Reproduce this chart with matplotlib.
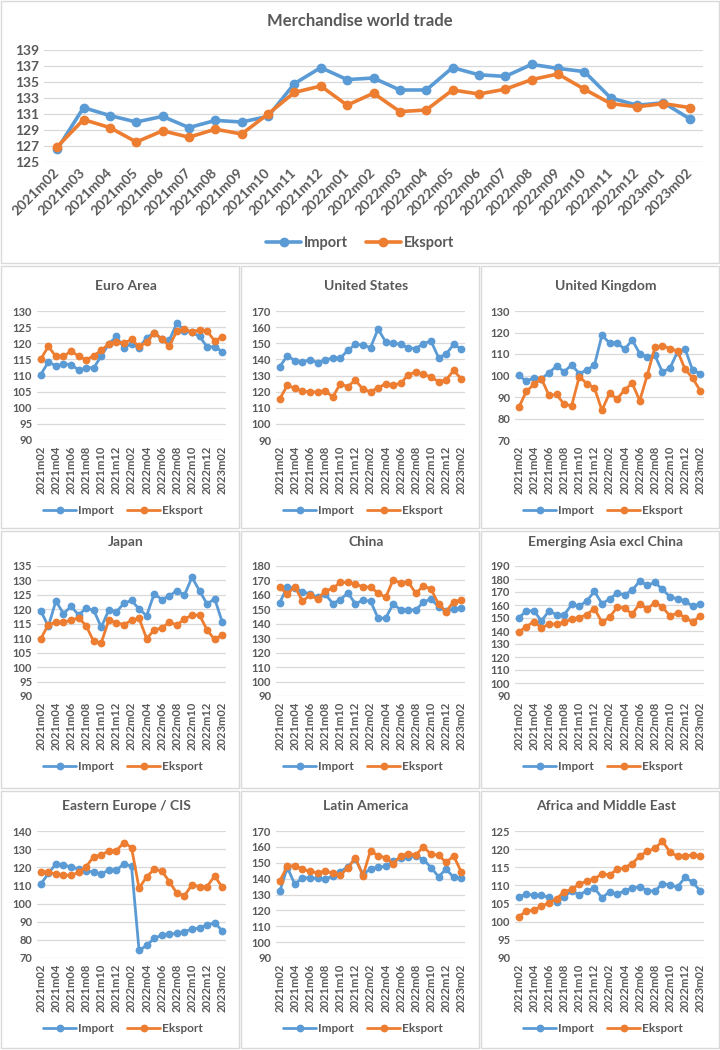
import matplotlib
matplotlib.use("Agg")
import matplotlib.pyplot as plt
from matplotlib.patches import Rectangle

plt.rcParams['font.family'] = ['Lato', 'DejaVu Sans']

months = ["2021m02", "2021m03", "2021m04", "2021m05", "2021m06", "2021m07",
          "2021m08", "2021m09", "2021m10", "2021m11", "2021m12", "2022m01",
          "2022m02", "2022m03", "2022m04", "2022m05", "2022m06", "2022m07",
          "2022m08", "2022m09", "2022m10", "2022m11", "2022m12", "2023m01",
          "2023m02"]

world_import = [126.6, 131.8, 130.8, 130.0, 130.7, 129.3, 130.2, 130.0, 130.7, 134.8,
                136.8, 135.3, 135.5, 134.0, 134.0, 136.8, 135.9, 135.7, 137.2, 136.7,
                136.3, 133.0, 132.1, 132.4, 130.4]
world_export = [126.9, 130.3, 129.3, 127.5, 128.9, 128.1, 129.1, 128.5, 131.0, 133.7,
                134.5, 132.1, 133.6, 131.3, 131.5, 134.0, 133.5, 134.1, 135.3, 136.0,
                134.1, 132.3, 131.9, 132.3, 131.8]

euro_import = [110.3, 114.2, 113.0, 113.6, 113.4, 111.7, 112.4, 112.4, 116.0, 119.8,
               122.1, 118.6, 119.9, 118.6, 121.7, 123.2, 121.2, 120.9, 126.3, 123.9,
               123.4, 122.1, 118.9, 118.9, 117.4]
euro_export = [115.1, 119.0, 115.9, 115.9, 117.6, 116.0, 114.9, 116.1, 117.8, 119.8,
               120.5, 120.0, 121.2, 119.0, 120.3, 123.2, 121.4, 119.1, 123.8, 124.4,
               123.5, 124.2, 123.8, 120.7, 122.0]

us_import = [135.5, 142.3, 139.2, 138.4, 139.8, 138.0, 139.6, 140.9, 140.7, 145.6,
             149.3, 148.9, 147.3, 158.8, 150.9, 150.2, 149.3, 147.1, 146.7, 149.8,
             151.4, 141.1, 143.3, 149.3, 146.4]
us_export = [115.5, 123.9, 122.1, 120.2, 119.8, 119.8, 120.6, 116.7, 124.8, 123.1,
             127.2, 121.4, 120.0, 122.3, 124.9, 124.1, 125.2, 130.5, 132.2, 130.7,
             129.1, 126.2, 127.2, 133.2, 127.9]

uk_import = [100.1, 97.3, 99.0, 98.5, 101.3, 104.4, 101.8, 104.9, 100.9, 102.6,
             104.7, 118.8, 115.1, 115.3, 112.2, 116.5, 110.2, 108.6, 109.4, 101.6,
             103.5, 111.0, 112.3, 102.4, 100.9]
uk_export = [85.2, 92.6, 95.9, 98.5, 90.7, 91.2, 86.6, 86.0, 99.5, 96.2,
             94.3, 83.8, 91.8, 89.1, 93.3, 96.4, 88.3, 100.2, 113.1, 113.9,
             112.5, 111.4, 102.9, 98.8, 92.9]

japan_import = [119.5, 114.1, 122.9, 118.5, 121.0, 118.1, 120.3, 119.7, 113.8, 119.8,
                119.1, 122.1, 123.1, 120.1, 117.8, 125.4, 123.4, 124.6, 126.5, 124.9,
                131.1, 126.4, 121.8, 123.7, 115.6]
japan_export = [109.8, 114.7, 115.5, 115.6, 116.2, 117.1, 114.3, 108.9, 108.4, 116.3,
                115.4, 114.7, 116.2, 116.9, 109.9, 112.8, 113.6, 115.5, 114.6, 116.6,
                118.0, 118.0, 112.8, 109.6, 111.2]

china_import = [154.7, 165.4, 164.5, 162.1, 160.7, 158.2, 160.7, 154.0, 156.6, 161.4,
                153.8, 156.3, 155.6, 144.0, 143.8, 153.8, 149.6, 149.6, 149.6, 154.9,
                157.3, 151.7, 148.9, 150.3, 151.2]
china_export = [165.2, 160.5, 165.8, 155.6, 159.8, 157.0, 162.8, 164.5, 168.6, 168.6,
                167.2, 165.8, 165.2, 161.4, 158.2, 170.5, 168.2, 168.9, 161.0, 166.3,
                164.0, 153.8, 148.4, 155.4, 156.3]

easia_import = [150.1, 155.5, 155.5, 147.8, 155.5, 152.4, 152.4, 160.4, 159.1, 163.2,
                170.4, 161.1, 164.5, 169.1, 167.8, 171.4, 178.4, 175.1, 177.4, 172.0,
                166.3, 164.7, 163.2, 159.1, 160.9]
easia_export = [139.2, 143.4, 147.2, 142.3, 145.4, 145.2, 146.7, 149.3, 150.3, 152.6,
                157.3, 146.7, 150.5, 158.2, 157.8, 152.9, 161.1, 156.8, 161.9, 158.5,
                151.5, 153.9, 150.3, 146.7, 151.8]

eeur_import = [110.7, 116.6, 121.9, 121.4, 120.1, 119.2, 118.1, 117.3, 116.4, 118.4,
               118.4, 121.9, 120.6, 74.2, 76.9, 80.8, 82.6, 83.0, 83.7, 84.6,
               85.9, 86.6, 88.3, 89.4, 85.0]
eeur_export = [117.5, 117.3, 116.2, 115.7, 115.5, 117.3, 120.3, 125.9, 126.8, 129.0,
               129.2, 133.6, 130.9, 108.4, 114.8, 118.8, 118.1, 112.1, 105.7, 104.4,
               110.3, 109.4, 109.4, 115.2, 109.0]

latam_import = [132.0, 147.0, 136.3, 140.7, 140.3, 140.3, 139.7, 141.6, 144.3, 147.5,
                152.3, 142.7, 146.2, 147.2, 147.7, 151.2, 153.1, 153.5, 154.3, 152.0,
                147.0, 141.2, 146.0, 140.8, 140.3]
latam_export = [138.5, 147.9, 148.1, 146.0, 144.5, 143.7, 144.7, 143.5, 142.4, 146.6,
                153.1, 141.8, 157.7, 154.3, 153.3, 149.5, 154.3, 155.8, 155.0, 160.0,
                155.4, 154.8, 150.2, 154.3, 144.3]

afme_import = [106.8, 107.6, 107.3, 107.3, 106.7, 105.4, 106.9, 108.5, 107.4, 108.5,
               109.3, 106.6, 108.2, 107.6, 108.5, 109.3, 109.6, 108.6, 108.4, 110.5,
               110.1, 109.6, 112.2, 110.9, 108.5]
afme_export = [101.4, 102.9, 103.2, 104.3, 105.2, 106.3, 108.3, 108.9, 110.4, 111.2,
               111.8, 113.2, 112.9, 114.4, 114.9, 116.0, 118.1, 119.4, 120.2, 122.2,
               119.2, 118.0, 118.1, 118.4, 118.1]

BLUE = '#5B9BD5'
ORANGE = '#ED7D31'
TXT = '#595959'
GRID = '#D9D9D9'

W, H = 720, 1050
fig = plt.figure(figsize=(W / 100, H / 100), dpi=100)
fig.patch.set_facecolor('white')


def add_ax(x0, y0, x1, y1):
    return fig.add_axes([x0 / W, 1 - y1 / H, (x1 - x0) / W, (y1 - y0) / H])


def border(x0, y0, x1, y1):
    fig.add_artist(Rectangle((x0 / W, 1 - y1 / H), (x1 - x0) / W, (y1 - y0) / H,
                             transform=fig.transFigure, fill=False, ec=GRID, lw=1.0))


def draw(ax, imp, exp, lo, hi, step, lw, ms, fs_tick, rot, every):
    x = list(range(len(months)))
    ax.plot(x, imp, color=BLUE, lw=lw, marker='o', ms=ms, label='Import',
            solid_capstyle='round', solid_joinstyle='round')
    ax.plot(x, exp, color=ORANGE, lw=lw, marker='o', ms=ms, label='Eksport',
            solid_capstyle='round', solid_joinstyle='round')
    ax.set_xlim(-0.5, len(months) - 0.5)
    ax.set_ylim(lo, hi)
    ax.set_yticks(list(range(lo, hi + 1, step)))
    ax.yaxis.grid(True, color=GRID, lw=0.9)
    ax.set_axisbelow(True)
    for s in ax.spines.values():
        s.set_visible(False)
    ax.tick_params(axis='both', length=0, colors=TXT, labelsize=fs_tick)
    for t in ax.get_yticklabels():
        t.set_fontweight('bold')
    ax.set_xticks(x[::every])
    if rot == 90:
        ax.set_xticklabels(months[::every], rotation=90, ha='center', va='top',
                           fontweight='bold', color=TXT, fontsize=fs_tick)
        ax.tick_params(axis='x', pad=4)
    else:
        ax.set_xticklabels(months[::every], rotation=rot, ha='right', va='center',
                           rotation_mode='anchor', fontweight='bold', color=TXT,
                           fontsize=fs_tick)
        ax.tick_params(axis='x', pad=6)
    for ln in ax.lines:
        ln.set_clip_on(False)


# ---- top panel ----
border(1, 1, 719, 263)
ax0 = add_ax(44, 50, 703, 162)
draw(ax0, world_import, world_export, 125, 139, 2, 2.6, 6, 10, 45, 1)
fig.text(360 / W, 1 - 21 / H, 'Merchandise world trade', ha='center', va='center',
         fontsize=12, fontweight='bold', color=TXT)
h, l = ax0.get_legend_handles_labels()
leg = fig.legend(h, l, loc='center', bbox_to_anchor=(360 / W, 1 - 243 / H), ncol=2,
                 frameon=False, handlelength=2.4, handletextpad=0.2, columnspacing=1.2,
                 prop={'weight': 'bold', 'size': 10.5})
for t in leg.get_texts():
    t.set_color(TXT)

# ---- small panels ----
panels = [
    ("Euro Area", euro_import, euro_export, 90, 130, 5),
    ("United States", us_import, us_export, 90, 170, 10),
    ("United Kingdom", uk_import, uk_export, 70, 130, 10),
    ("Japan", japan_import, japan_export, 90, 135, 5),
    ("China", china_import, china_export, 90, 180, 10),
    ("Emerging Asia excl China", easia_import, easia_export, 90, 190, 10),
    ("Eastern Europe / CIS", eeur_import, eeur_export, 70, 140, 10),
    ("Latin America", latam_import, latam_export, 90, 170, 10),
    ("Africa and Middle East", afme_import, afme_export, 90, 125, 5),
]

rows = [
    dict(box=(266, 528), plot=(311, 440), title=286, legend=511),
    dict(box=(531, 788), plot=(566, 696), title=542, legend=767),
    dict(box=(791, 1048), plot=(831, 958), title=806, legend=1029),
]
col_left = [37, 276, 515]

for i, (title, imp, exp, lo, hi, step) in enumerate(panels):
    r, c = divmod(i, 3)
    row = rows[r]
    bx0 = c * 240 + 1
    border(bx0, row['box'][0], bx0 + 238, row['box'][1])
    ax = add_ax(col_left[c], row['plot'][0], col_left[c] + 189, row['plot'][1])
    draw(ax, imp, exp, lo, hi, step, 2.0, 4.6, 8, 90, 2)
    fig.text((c * 240 + 126) / W, 1 - row['title'] / H, title, ha='center', va='center',
             fontsize=10, fontweight='bold', color=TXT)
    h, l = ax.get_legend_handles_labels()
    leg = fig.legend(h, l, loc='center', bbox_to_anchor=((c * 240 + 123) / W, 1 - row['legend'] / H),
                     ncol=2, frameon=False, handlelength=2.8, handletextpad=0.15,
                     columnspacing=1.1, prop={'weight': 'bold', 'size': 8.5})
    for t in leg.get_texts():
        t.set_color(TXT)

fig.savefig('out.png', dpi=100, facecolor='white')
